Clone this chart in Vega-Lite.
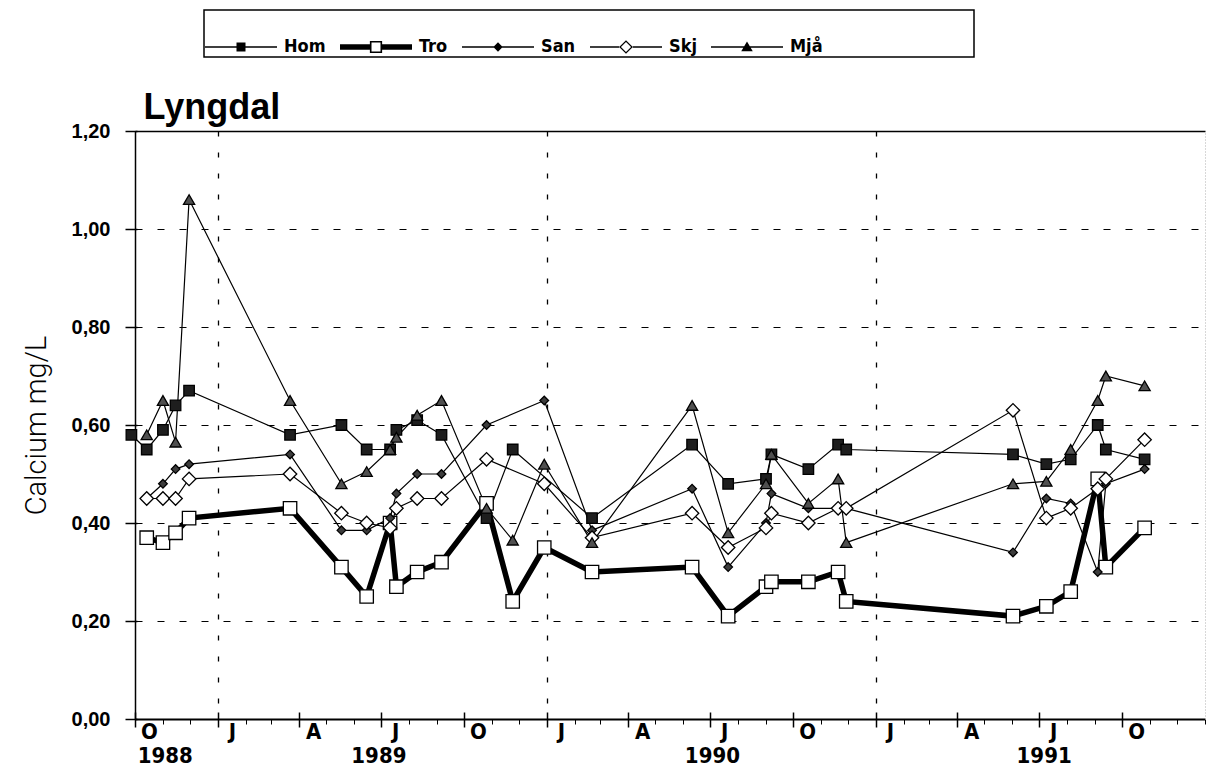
{
  "$schema": "https://vega.github.io/schema/vega-lite/v6.json",
  "width": 1070,
  "height": 588,
  "autosize": {"type": "none"},
  "padding": {"left": 135, "top": 131, "right": 1, "bottom": 62},
  "background": "white",
  "config": {
    "view": {"stroke": null},
    "axis": {"labelColor": "black", "tickColor": "black", "domainColor": "black", "titleColor": "black", "gridColor": "black"},
    "legend": {"strokeWidth": 1.5}
  },
  "datasets": {
    "ca": [
      {"series": "Hom", "date": "1988-09-27", "value": 0.58},
      {"series": "Hom", "date": "1988-10-14", "value": 0.55},
      {"series": "Hom", "date": "1988-11-01", "value": 0.59},
      {"series": "Hom", "date": "1988-11-15", "value": 0.64},
      {"series": "Hom", "date": "1988-11-30", "value": 0.67},
      {"series": "Hom", "date": "1989-03-22", "value": 0.58},
      {"series": "Hom", "date": "1989-05-18", "value": 0.60},
      {"series": "Hom", "date": "1989-06-15", "value": 0.55},
      {"series": "Hom", "date": "1989-07-11", "value": 0.55},
      {"series": "Hom", "date": "1989-07-18", "value": 0.59},
      {"series": "Hom", "date": "1989-08-10", "value": 0.61},
      {"series": "Hom", "date": "1989-09-06", "value": 0.58},
      {"series": "Hom", "date": "1989-10-26", "value": 0.41},
      {"series": "Hom", "date": "1989-11-24", "value": 0.55},
      {"series": "Hom", "date": "1990-02-20", "value": 0.41},
      {"series": "Hom", "date": "1990-06-11", "value": 0.56},
      {"series": "Hom", "date": "1990-07-21", "value": 0.48},
      {"series": "Hom", "date": "1990-09-01", "value": 0.49},
      {"series": "Hom", "date": "1990-09-07", "value": 0.54},
      {"series": "Hom", "date": "1990-10-18", "value": 0.51},
      {"series": "Hom", "date": "1990-11-20", "value": 0.56},
      {"series": "Hom", "date": "1990-11-29", "value": 0.55},
      {"series": "Hom", "date": "1991-06-02", "value": 0.54},
      {"series": "Hom", "date": "1991-07-09", "value": 0.52},
      {"series": "Hom", "date": "1991-08-05", "value": 0.53},
      {"series": "Hom", "date": "1991-09-04", "value": 0.60},
      {"series": "Hom", "date": "1991-09-13", "value": 0.55},
      {"series": "Hom", "date": "1991-10-26", "value": 0.53},
      {"series": "Tro", "date": "1988-10-14", "value": 0.37},
      {"series": "Tro", "date": "1988-11-01", "value": 0.36},
      {"series": "Tro", "date": "1988-11-15", "value": 0.38},
      {"series": "Tro", "date": "1988-11-30", "value": 0.41},
      {"series": "Tro", "date": "1989-03-22", "value": 0.43},
      {"series": "Tro", "date": "1989-05-18", "value": 0.31},
      {"series": "Tro", "date": "1989-06-15", "value": 0.25},
      {"series": "Tro", "date": "1989-07-11", "value": 0.40},
      {"series": "Tro", "date": "1989-07-18", "value": 0.27},
      {"series": "Tro", "date": "1989-08-10", "value": 0.30},
      {"series": "Tro", "date": "1989-09-06", "value": 0.32},
      {"series": "Tro", "date": "1989-10-26", "value": 0.44},
      {"series": "Tro", "date": "1989-11-24", "value": 0.24},
      {"series": "Tro", "date": "1989-12-29", "value": 0.35},
      {"series": "Tro", "date": "1990-02-20", "value": 0.30},
      {"series": "Tro", "date": "1990-06-11", "value": 0.31},
      {"series": "Tro", "date": "1990-07-21", "value": 0.21},
      {"series": "Tro", "date": "1990-09-01", "value": 0.27},
      {"series": "Tro", "date": "1990-09-07", "value": 0.28},
      {"series": "Tro", "date": "1990-10-18", "value": 0.28},
      {"series": "Tro", "date": "1990-11-20", "value": 0.30},
      {"series": "Tro", "date": "1990-11-29", "value": 0.24},
      {"series": "Tro", "date": "1991-06-02", "value": 0.21},
      {"series": "Tro", "date": "1991-07-09", "value": 0.23},
      {"series": "Tro", "date": "1991-08-05", "value": 0.26},
      {"series": "Tro", "date": "1991-09-04", "value": 0.49},
      {"series": "Tro", "date": "1991-09-13", "value": 0.31},
      {"series": "Tro", "date": "1991-10-26", "value": 0.39},
      {"series": "San", "date": "1988-10-14", "value": 0.45},
      {"series": "San", "date": "1988-11-01", "value": 0.48},
      {"series": "San", "date": "1988-11-15", "value": 0.51},
      {"series": "San", "date": "1988-11-30", "value": 0.52},
      {"series": "San", "date": "1989-03-22", "value": 0.54},
      {"series": "San", "date": "1989-05-18", "value": 0.385},
      {"series": "San", "date": "1989-06-15", "value": 0.385},
      {"series": "San", "date": "1989-07-11", "value": 0.41},
      {"series": "San", "date": "1989-07-18", "value": 0.46},
      {"series": "San", "date": "1989-08-10", "value": 0.50},
      {"series": "San", "date": "1989-09-06", "value": 0.50},
      {"series": "San", "date": "1989-10-26", "value": 0.60},
      {"series": "San", "date": "1989-12-29", "value": 0.65},
      {"series": "San", "date": "1990-02-20", "value": 0.385},
      {"series": "San", "date": "1990-06-11", "value": 0.47},
      {"series": "San", "date": "1990-07-21", "value": 0.31},
      {"series": "San", "date": "1990-09-01", "value": 0.40},
      {"series": "San", "date": "1990-09-07", "value": 0.46},
      {"series": "San", "date": "1990-10-18", "value": 0.43},
      {"series": "San", "date": "1990-11-20", "value": 0.43},
      {"series": "San", "date": "1990-11-29", "value": 0.43},
      {"series": "San", "date": "1991-06-02", "value": 0.34},
      {"series": "San", "date": "1991-07-09", "value": 0.45},
      {"series": "San", "date": "1991-08-05", "value": 0.44},
      {"series": "San", "date": "1991-09-04", "value": 0.30},
      {"series": "San", "date": "1991-09-13", "value": 0.48},
      {"series": "San", "date": "1991-10-26", "value": 0.51},
      {"series": "Skj", "date": "1988-10-14", "value": 0.45},
      {"series": "Skj", "date": "1988-11-01", "value": 0.45},
      {"series": "Skj", "date": "1988-11-15", "value": 0.45},
      {"series": "Skj", "date": "1988-11-30", "value": 0.49},
      {"series": "Skj", "date": "1989-03-22", "value": 0.50},
      {"series": "Skj", "date": "1989-05-18", "value": 0.42},
      {"series": "Skj", "date": "1989-06-15", "value": 0.40},
      {"series": "Skj", "date": "1989-07-11", "value": 0.39},
      {"series": "Skj", "date": "1989-07-18", "value": 0.43},
      {"series": "Skj", "date": "1989-08-10", "value": 0.45},
      {"series": "Skj", "date": "1989-09-06", "value": 0.45},
      {"series": "Skj", "date": "1989-10-26", "value": 0.53},
      {"series": "Skj", "date": "1989-12-29", "value": 0.48},
      {"series": "Skj", "date": "1990-02-20", "value": 0.37},
      {"series": "Skj", "date": "1990-06-11", "value": 0.42},
      {"series": "Skj", "date": "1990-07-21", "value": 0.35},
      {"series": "Skj", "date": "1990-09-01", "value": 0.39},
      {"series": "Skj", "date": "1990-09-07", "value": 0.42},
      {"series": "Skj", "date": "1990-10-18", "value": 0.40},
      {"series": "Skj", "date": "1990-11-20", "value": 0.43},
      {"series": "Skj", "date": "1990-11-29", "value": 0.43},
      {"series": "Skj", "date": "1991-06-02", "value": 0.63},
      {"series": "Skj", "date": "1991-07-09", "value": 0.41},
      {"series": "Skj", "date": "1991-08-05", "value": 0.43},
      {"series": "Skj", "date": "1991-09-04", "value": 0.47},
      {"series": "Skj", "date": "1991-09-13", "value": 0.49},
      {"series": "Skj", "date": "1991-10-26", "value": 0.57},
      {"series": "Mjå", "date": "1988-10-14", "value": 0.58},
      {"series": "Mjå", "date": "1988-11-01", "value": 0.65},
      {"series": "Mjå", "date": "1988-11-15", "value": 0.565},
      {"series": "Mjå", "date": "1988-11-30", "value": 1.06},
      {"series": "Mjå", "date": "1989-03-22", "value": 0.65},
      {"series": "Mjå", "date": "1989-05-18", "value": 0.48},
      {"series": "Mjå", "date": "1989-06-15", "value": 0.505},
      {"series": "Mjå", "date": "1989-07-11", "value": 0.55},
      {"series": "Mjå", "date": "1989-07-18", "value": 0.575},
      {"series": "Mjå", "date": "1989-08-10", "value": 0.62},
      {"series": "Mjå", "date": "1989-09-06", "value": 0.65},
      {"series": "Mjå", "date": "1989-10-26", "value": 0.43},
      {"series": "Mjå", "date": "1989-11-24", "value": 0.365},
      {"series": "Mjå", "date": "1989-12-29", "value": 0.52},
      {"series": "Mjå", "date": "1990-02-20", "value": 0.36},
      {"series": "Mjå", "date": "1990-06-11", "value": 0.64},
      {"series": "Mjå", "date": "1990-07-21", "value": 0.38},
      {"series": "Mjå", "date": "1990-09-01", "value": 0.48},
      {"series": "Mjå", "date": "1990-09-07", "value": 0.54},
      {"series": "Mjå", "date": "1990-10-18", "value": 0.44},
      {"series": "Mjå", "date": "1990-11-20", "value": 0.49},
      {"series": "Mjå", "date": "1990-11-29", "value": 0.36},
      {"series": "Mjå", "date": "1991-06-02", "value": 0.48},
      {"series": "Mjå", "date": "1991-07-09", "value": 0.485},
      {"series": "Mjå", "date": "1991-08-05", "value": 0.55},
      {"series": "Mjå", "date": "1991-09-04", "value": 0.65},
      {"series": "Mjå", "date": "1991-09-13", "value": 0.70},
      {"series": "Mjå", "date": "1991-10-26", "value": 0.68}
    ]
  },
  "data": {"name": "ca"},
  "resolve": {"axis": {"x": "independent", "y": "independent"}, "scale": {"shape": "independent"}, "legend": {"shape": "independent"}},
  "layer": [
    {
      "mark": {"type": "line", "color": "black", "clip": false},
      "encoding": {
        "x": {
          "field": "date", "type": "temporal",
          "scale": {"type": "utc", "domain": [{"year": 1988, "month": 10, "date": 1, "utc": true}, {"year": 1992, "month": 1, "date": 1, "utc": true}]},
          "axis": {
            "orient": "bottom", "title": null, "grid": false, "ticks": false, "tickSize": 0,
            "domain": true, "domainWidth": 2,
            "values": [
              {"year": 1988, "month": 10, "date": 1, "utc": true},
              {"year": 1989, "month": 1, "date": 1, "utc": true},
              {"year": 1989, "month": 4, "date": 1, "utc": true},
              {"year": 1989, "month": 7, "date": 1, "utc": true},
              {"year": 1989, "month": 10, "date": 1, "utc": true},
              {"year": 1990, "month": 1, "date": 1, "utc": true},
              {"year": 1990, "month": 4, "date": 1, "utc": true},
              {"year": 1990, "month": 7, "date": 1, "utc": true},
              {"year": 1990, "month": 10, "date": 1, "utc": true},
              {"year": 1991, "month": 1, "date": 1, "utc": true},
              {"year": 1991, "month": 4, "date": 1, "utc": true},
              {"year": 1991, "month": 7, "date": 1, "utc": true},
              {"year": 1991, "month": 10, "date": 1, "utc": true}
            ],
            "labelExpr": "substring(utcFormat(datum.value, '%b'), 0, 1)",
            "labelFont": "DejaVu Sans Condensed, Liberation Sans", "labelFontWeight": "bold", "labelFontSize": 22,
            "labelPadding": 2, "labelOffset": 14, "labelAlign": "center", "labelBaseline": "top",
            "labelOverlap": false, "labelFlush": false, "labelBound": false
          }
        },
        "y": {
          "field": "value", "type": "quantitative",
          "scale": {"domain": [0, 1.2], "nice": false, "zero": false},
          "axis": {
            "orient": "left",
            "values": [0, 0.2, 0.4, 0.6, 0.8, 1.0, 1.2],
            "labelExpr": "replace(format(datum.value, '.2f'), '.', ',')",
            "labelFont": "Liberation Sans", "labelFontWeight": "bold", "labelFontSize": 20,
            "ticks": false, "tickSize": 0, "labelPadding": 25,
            "domain": true, "domainWidth": 1.5,
            "grid": true, "gridDash": [7, 15], "gridWidth": 1.2,
            "title": "Calcium mg/L", "titleFont": "Roboto", "titleFontWeight": 300, "titleFontSize": 29,
            "titleX": -90, "titleY": 294, "titleAngle": -90, "titleAlign": "center", "titleBaseline": "alphabetic"
          }
        },
        "detail": {"field": "series", "type": "nominal"},
        "strokeWidth": {"condition": {"test": "datum.series === 'Tro'", "value": 5.5}, "value": 1.2}
      }
    },
    {
      "mark": {"type": "point", "opacity": 1, "strokeWidth": 1.3, "clip": false},
      "encoding": {
        "x": {
          "field": "date", "type": "temporal",
          "scale": {"type": "utc", "domain": [{"year": 1988, "month": 10, "date": 1, "utc": true}, {"year": 1992, "month": 1, "date": 1, "utc": true}]},
          "axis": {
            "orient": "bottom", "title": null, "grid": false, "labels": false, "domain": false,
            "ticks": true, "tickSize": 15, "tickWidth": 1.5, "offset": -7,
            "values": [
              {"year": 1988, "month": 10, "date": 1, "utc": true},
              {"year": 1989, "month": 1, "date": 1, "utc": true},
              {"year": 1989, "month": 4, "date": 1, "utc": true},
              {"year": 1989, "month": 7, "date": 1, "utc": true},
              {"year": 1989, "month": 10, "date": 1, "utc": true},
              {"year": 1990, "month": 1, "date": 1, "utc": true},
              {"year": 1990, "month": 4, "date": 1, "utc": true},
              {"year": 1990, "month": 7, "date": 1, "utc": true},
              {"year": 1990, "month": 10, "date": 1, "utc": true},
              {"year": 1991, "month": 1, "date": 1, "utc": true},
              {"year": 1991, "month": 4, "date": 1, "utc": true},
              {"year": 1991, "month": 7, "date": 1, "utc": true},
              {"year": 1991, "month": 10, "date": 1, "utc": true}
            ]
          }
        },
        "y": {
          "field": "value", "type": "quantitative",
          "scale": {"domain": [0, 1.2], "nice": false, "zero": false},
          "axis": {
            "orient": "left", "title": null, "grid": false, "labels": false, "domain": false,
            "ticks": true, "tickSize": 12, "tickWidth": 1.5, "offset": -2,
            "values": [0, 0.2, 0.4, 0.6, 0.8, 1.0, 1.2]
          }
        },
        "shape": {
          "field": "series", "type": "nominal",
          "scale": {"domain": ["Hom", "Tro", "San", "Skj", "Mjå"], "range": ["square", "square", "diamond", "diamond", "triangle-up"]},
          "legend": null
        },
        "fill": {
          "condition": [
            {"test": "datum.series === 'Tro' || datum.series === 'Skj'", "value": "#ffffff"},
            {"test": "datum.series === 'Hom'", "value": "#1e1e1e"},
            {"test": "datum.series === 'San'", "value": "#3c3c3c"}
          ],
          "value": "#505050"
        },
        "stroke": {"value": "black"},
        "size": {
          "condition": [
            {"test": "datum.series === 'Tro' || datum.series === 'Skj'", "value": 180},
            {"test": "datum.series === 'Hom'", "value": 110},
            {"test": "datum.series === 'San'", "value": 75}
          ],
          "value": 125
        }
      }
    },
    {
      "mark": {"type": "point", "filled": true, "fill": "black", "strokeWidth": 0, "opacity": 0},
      "encoding": {
        "x": {
          "field": "date", "type": "temporal",
          "scale": {"type": "utc", "domain": [{"year": 1988, "month": 10, "date": 1, "utc": true}, {"year": 1992, "month": 1, "date": 1, "utc": true}]},
          "axis": null
        },
        "y": {"field": "value", "type": "quantitative", "scale": {"domain": [0, 1.2], "nice": false, "zero": false}, "axis": null},
        "shape": {
          "field": "series", "type": "nominal",
          "scale": {
            "domain": ["Hom", "Tro", "San", "Skj", "Mjå"],
            "range": [
              "M-1,-0.018H1V0.018H-1Z M-0.125,-0.125H0.125V0.125H-0.125Z",
              "M-1,-0.075H-0.17V0.075H-1Z M0.17,-0.075H1V0.075H0.17Z M-0.17,-0.17H0.17V0.17H-0.17Z M-0.125,-0.125V0.125H0.125V-0.125Z",
              "M-1,-0.018H1V0.018H-1Z M0,-0.13L0.13,0L0,0.13L-0.13,0Z",
              "M-1,-0.018H-0.19V0.018H-1Z M0.19,-0.018H1V0.018H0.19Z M0,-0.19L0.19,0L0,0.19L-0.19,0Z M0,-0.14L-0.14,0L0,0.14L0.14,0Z",
              "M-1,-0.018H1V0.018H-1Z M0,-0.15L0.16,0.12L-0.16,0.12Z"
            ]
          },
          "legend": {
            "orient": "none", "legendX": 69, "legendY": -121, "direction": "horizontal",
            "title": " ", "titleOrient": "right", "titlePadding": 150, "titleFontSize": 8,
            "padding": 1, "strokeColor": "black", "fillColor": "white",
            "symbolSize": 5184, "symbolStrokeWidth": 0, "symbolFillColor": "black", "symbolOpacity": 1,
            "labelFont": "DejaVu Sans Condensed, Liberation Sans", "labelFontWeight": "bold", "labelFontSize": 18, "labelColor": "black",
            "labelOffset": 7, "columnPadding": 14
          }
        }
      }
    },
    {
      "mark": {"type": "point", "opacity": 0},
      "encoding": {
        "x": {
          "field": "date", "type": "temporal",
          "scale": {"type": "utc", "domain": [{"year": 1988, "month": 10, "date": 1, "utc": true}, {"year": 1992, "month": 1, "date": 1, "utc": true}]},
          "axis": {
            "orient": "bottom", "title": null, "grid": false, "labels": false, "domain": false,
            "ticks": true, "tickSize": 5, "tickWidth": 1,
            "tickCount": {"interval": "month", "step": 1}
          }
        },
        "y": {"field": "value", "type": "quantitative", "scale": {"domain": [0, 1.2], "nice": false, "zero": false}, "axis": null}
      }
    },
    {
      "mark": {"type": "point", "opacity": 0},
      "encoding": {
        "x": {
          "field": "date", "type": "temporal",
          "scale": {"type": "utc", "domain": [{"year": 1988, "month": 10, "date": 1, "utc": true}, {"year": 1992, "month": 1, "date": 1, "utc": true}]},
          "axis": {
            "orient": "bottom", "title": null, "grid": false, "domain": false, "ticks": false, "tickSize": 0,
            "values": [
              {"year": 1988, "month": 11, "date": 3, "utc": true},
              {"year": 1989, "month": 6, "date": 28, "utc": true},
              {"year": 1990, "month": 7, "date": 3, "utc": true},
              {"year": 1991, "month": 7, "date": 6, "utc": true}
            ],
            "labelExpr": "utcFormat(datum.value, '%Y')",
            "labelFont": "DejaVu Sans Condensed, Liberation Sans", "labelFontWeight": "bold", "labelFontSize": 22,
            "labelPadding": 26, "labelAlign": "center", "labelBaseline": "top",
            "labelOverlap": false, "labelFlush": false, "labelBound": false
          }
        },
        "y": {"field": "value", "type": "quantitative", "scale": {"domain": [0, 1.2], "nice": false, "zero": false}, "axis": null}
      }
    },
    {
      "mark": {"type": "point", "opacity": 0},
      "encoding": {
        "x": {
          "field": "date", "type": "temporal",
          "scale": {"type": "utc", "domain": [{"year": 1988, "month": 10, "date": 1, "utc": true}, {"year": 1992, "month": 1, "date": 1, "utc": true}]},
          "axis": {
            "orient": "bottom", "title": null, "labels": false, "domain": false, "ticks": false,
            "grid": true, "gridDash": [5, 16], "gridWidth": 1.3,
            "values": [
              {"year": 1989, "month": 1, "date": 1, "utc": true},
              {"year": 1990, "month": 1, "date": 1, "utc": true},
              {"year": 1991, "month": 1, "date": 1, "utc": true}
            ]
          }
        },
        "y": {
          "field": "value", "type": "quantitative", "scale": {"domain": [0, 1.2], "nice": false, "zero": false},
          "axis": {"orient": "right", "title": null, "labels": false, "ticks": false, "grid": false, "domain": true, "domainColor": "#b0b0b0", "domainDash": [1, 2], "domainWidth": 1}
        }
      }
    },
    {
      "mark": {"type": "point", "opacity": 0},
      "encoding": {
        "x": {
          "field": "date", "type": "temporal",
          "scale": {"type": "utc", "domain": [{"year": 1988, "month": 10, "date": 1, "utc": true}, {"year": 1992, "month": 1, "date": 1, "utc": true}]},
          "axis": {
            "orient": "top", "labels": false, "ticks": false, "grid": false, "domain": true, "domainWidth": 1.5,
            "title": "Lyngdal", "titleFont": "Liberation Sans", "titleFontWeight": "bold", "titleFontSize": 36,
            "titleX": 8, "titleY": -13, "titleAlign": "left", "titleBaseline": "alphabetic", "titleAngle": 0
          }
        },
        "y": {"field": "value", "type": "quantitative", "scale": {"domain": [0, 1.2], "nice": false, "zero": false}, "axis": null}
      }
    }
  ]
}
